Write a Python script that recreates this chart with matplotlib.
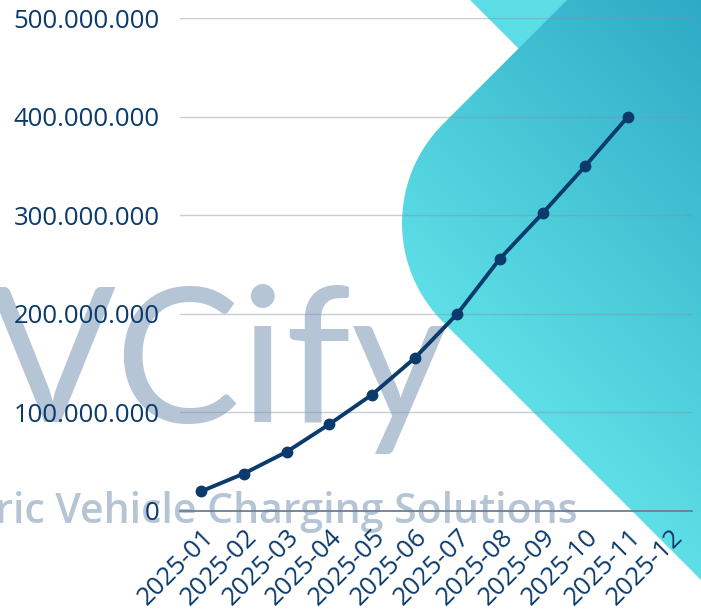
import numpy as np
import matplotlib.pyplot as plt
import matplotlib.transforms as mtransforms
from matplotlib.patches import Polygon
from matplotlib.colors import LinearSegmentedColormap
from matplotlib.ticker import FuncFormatter

# data
months = ['2025-01', '2025-02', '2025-03', '2025-04', '2025-05', '2025-06',
          '2025-07', '2025-08', '2025-09', '2025-10', '2025-11', '2025-12']
values = [20e6, 38e6, 60e6, 88e6, 118e6, 155e6, 200e6, 256e6, 302e6, 350e6, 400e6]
y_ticks = [0, 100e6, 200e6, 300e6, 400e6, 500e6]

navy = '#0b3a6c'
W, H = 701, 612

fig = plt.figure(figsize=(W / 100, H / 100), dpi=100)
fig.patch.set_facecolor('white')

# background layer in pixel coordinates
bg = fig.add_axes([0, 0, 1, 1], zorder=0)
bg.set_xlim(0, W)
bg.set_ylim(H, 0)
bg.axis('off')

# watermark text (left part runs off the canvas)
bg.text(-12, 422, 'VCify', fontsize=135, family='Lato', fontweight='normal',
        color='#b6c5d5', ha='left', va='baseline', zorder=1)
bg.text(578, 523, 'Electric Vehicle Charging Solutions', fontsize=29.5,
        family='Open Sans', fontweight='semibold', color='#b6c5d5',
        ha='right', va='baseline', zorder=1)

# light triangle at top, partly under the big shape
bg.add_patch(Polygon([(465, -5), (530, 60), (620, -5)], closed=True,
                     facecolor='#5cdde5', edgecolor='none', zorder=2))

# rounded diamond shape with gradient
cx, cy, r = 542, 223, 140
ang = np.radians(np.linspace(225, 135, 40))
arc = np.column_stack([cx + r * np.cos(ang), cy + r * np.sin(ang)])
pts = np.vstack([[(617, -50)], arc, [(780, 659), (780, -50)]])
shape = Polygon(pts, closed=True, facecolor='none', edgecolor='none')
bg.add_patch(shape)

gx, gy = np.meshgrid(np.arange(W), np.arange(H))
t = np.clip(((gx - gy) - 100) / 620, 0, 1)
cmap = LinearSegmentedColormap.from_list('cy', ['#60e1e7', '#2eaac5'])
im = bg.imshow(t, cmap=cmap, extent=[0, W, H, 0], origin='upper',
               aspect='auto', zorder=3, interpolation='bilinear')
im.set_clip_path(shape)

# main chart
ax = fig.add_axes([180 / W, (H - 511) / H, 512 / W, 493 / H], zorder=1)
ax.set_facecolor('none')
x = np.arange(len(values))
ax.plot(x, values, color=navy, linewidth=2.8, marker='o', markersize=7.5, zorder=3)

ax.set_xlim(-0.5, len(months) - 0.5)
ax.set_ylim(0, 500e6)
ax.set_xticks(np.arange(len(months)))
ax.set_xticklabels(months)
ax.set_yticks(y_ticks)
ax.yaxis.set_major_formatter(FuncFormatter(lambda v, p: f'{int(v):,}'.replace(',', '.')))

ax.grid(axis='y', color='#7f93ab', alpha=0.45, linewidth=1)
ax.set_axisbelow(True)
for s in ['top', 'right', 'left']:
    ax.spines[s].set_visible(False)
ax.spines['bottom'].set_color('#6d7f93')
ax.spines['bottom'].set_linewidth(1.3)

ax.tick_params(axis='both', length=0, colors=navy)
ax.tick_params(axis='y', pad=14.5, labelsize=18.5)
ax.tick_params(axis='x', pad=16, labelsize=18.5)
for lab in ax.get_yticklabels():
    lab.set_family('Open Sans')
offset = mtransforms.ScaledTranslation(9 / 100, 0, fig.dpi_scale_trans)
for lab in ax.get_xticklabels():
    lab.set_family('Open Sans')
    lab.set_rotation(45)
    lab.set_ha('right')
    lab.set_va('center')
    lab.set_rotation_mode('anchor')
    lab.set_transform(lab.get_transform() + offset)

plt.savefig('out.png', dpi=100)
